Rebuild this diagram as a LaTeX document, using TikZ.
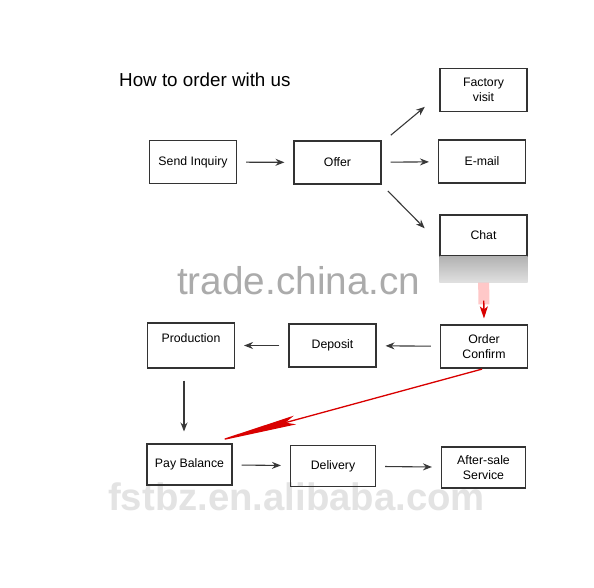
\documentclass[tikz,border=0pt]{standalone}
\usepackage{fontspec}
\setmainfont{Liberation Sans}
\usetikzlibrary{arrows.meta}

\begin{document}
\begin{tikzpicture}[x=1pt,y=-1pt]
        \tikzstyle{box} = [draw=black!80, line width=1.1pt, minimum width=87pt, minimum height=43pt, inner sep=2pt, align=center, text=black, font=\fontsize{12.3}{15}\selectfont]
        \tikzstyle{flow} = [draw=black!78, line width=1.1pt, -{Stealth[length=9pt,width=7pt,inset=3pt]}, shorten <=9pt, shorten >=9pt]
        \tikzstyle{redflow} = [draw=red!85!black, fill=red!85!black, line width=1.3pt]
        \useasboundingbox (0,0) rectangle (594,587);
        \fill[white] (0,0) rectangle (594,587);
        % watermarks
        \node[anchor=base west, inner sep=0, text=black!33, font=\fontsize{38.7}{40}\selectfont] (wmtrade) at (177,294) {trade.china.cn};
        \node[anchor=base west, inner sep=0, text=black!11, font=\bfseries\fontsize{38.3}{40}\selectfont] (wmshop) at (108,510.7) {fstbz.en.alibaba.com};
        \node[anchor=base west, inner sep=0, font=\fontsize{18.8}{22}\selectfont] (title) at (119,86.8) {How to order with us};
        % first row
        \node[box] (send) at (193,162) {Send Inquiry};
        \node[box] (offer) at (337.5,162.5) {Offer};
        \node[box] (fact) at (483.5,90) {Factory\\visit};
        \node[box] (mail) at (482,161.5) {E-mail};
        \node[box, minimum height=41pt] (chat) at (483.5,235.5) {Chat};
        % second row
        \node[box] (oc) at (484,346.5) {Order\\Confirm};
        \node[box] (dep) at (332.5,345.5) {Deposit};
        \node[box, minimum height=45pt, text height=9pt, text depth=16pt] (prod) at (191,345.5) {Production};
        % third row
        \node[box, minimum width=85pt, minimum height=41pt] (pay) at (189.5,464.5) {Pay Balance};
        \node[box, minimum width=85pt, minimum height=41pt] (deliv) at (333,466) {Delivery};
        \node[box, minimum width=84pt, minimum height=41pt] (after) at (483.5,467.5) {After-sale\\Service};
        \foreach \from/\to in {send/offer, offer/mail, oc/dep, dep/prod, pay/deliv, deliv/after}
            \draw[flow] (\from) -- (\to);
        \draw[flow, shorten <=12pt, shorten >=19pt] (offer.24) -- (fact.186);
        \draw[flow, shorten >=21pt] (offer.south east) -- (chat.190);
        \draw[flow, shorten <=12pt, shorten >=12pt] ([xshift=-7pt]prod.south) -- ([xshift=-5.5pt]pay.north);
        % shadow under chat and red arrows
        \shade[top color=black!30, middle color=black!30, bottom color=black!12] (chat.south west) rectangle ([yshift=-26pt]chat.south east);
        \draw[red!30, line width=11pt, opacity=0.7, shorten <=26pt, shorten >=20pt] (chat.south) -- (oc.north);
        \draw[redflow, -{Stealth[length=12pt,width=8pt,inset=3pt]}, shorten <=44pt, shorten >=6pt] (chat.south) -- (oc.north);
        \draw[redflow, -{Stealth[length=85pt,width=9pt,inset=10pt]}, shorten <=2pt, shorten >=-11pt] (oc.south) -- ([xshift=-9pt,yshift=4pt]pay.north east);
    \end{tikzpicture}
\end{document}
